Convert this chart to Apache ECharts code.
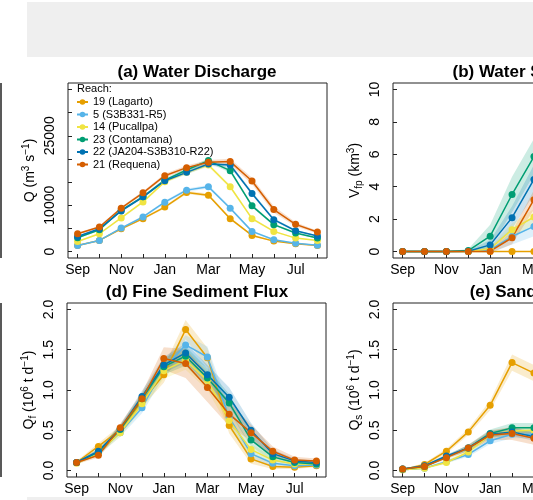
<!DOCTYPE html>
<html lang="en">
<head>
  <meta charset="UTF-8">
  <title>Reach seasonal cycles</title>
  <script src="https://cdn.jsdelivr.net/npm/echarts@6/dist/echarts.min.js"></script>
  <style>
    html, body { margin: 0; padding: 0; background: #fff; overflow: hidden; }
    /* the figure continues past the right edge of the window, like the cropped original */
    #main { width: 670px; height: 500px; }
  </style>
</head>
<body>
<div id="main"></div>
<script type="text/javascript">
  // months of the hydrological year (x axis index 0..11)
  var months = ['Sep', 'Oct', 'Nov', 'Dec', 'Jan', 'Feb', 'Mar', 'Apr', 'May', 'Jun', 'Jul', 'Aug'];
  var monthLabelIdx = [0, 2, 4, 6, 8, 10];
  var monthTickIdx = [0, 1, 2, 3, 4, 5, 6, 7, 8, 9, 10, 11];

  var reachNames = ['19 (Lagarto)', '5 (S3B331-R5)', '14 (Pucallpa)', '23 (Contamana)', '22 (JA204-S3B310-R22)', '21 (Requena)'];
  var reachColors = ['#E69F00', '#56B4E9', '#F0E442', '#009E73', '#0072B2', '#D55E00'];

  // (a) water discharge Q, m3/s
  var q19 = [1300, 2400, 4900, 7100, 9600, 12750, 12170, 7100, 3480, 2250, 1670, 1300];
  var q5  = [1300, 2400, 5070, 7460, 10650, 13260, 13990, 9350, 4350, 2540, 1810, 1380];
  var q14 = [2170, 3840, 7250, 10720, 15070, 17100, 18700, 13990, 7100, 4350, 2900, 2400];
  var q23 = [2970, 4710, 8910, 11810, 15430, 17610, 19640, 17460, 9860, 5800, 3990, 2900];
  var q22 = [3260, 4930, 8770, 11810, 15290, 17100, 18910, 18700, 12540, 6880, 4490, 3330];
  var q21 = [3840, 5290, 9350, 12680, 16380, 18120, 19280, 19420, 15220, 9060, 5870, 4200];
  // half width of the shaded bands
  var q19Err = [100, 150, 200, 250, 300, 350, 350, 300, 250, 150, 100, 100];
  var q5Err  = [100, 150, 200, 250, 300, 350, 400, 350, 250, 150, 100, 100];
  var q14Err = [150, 200, 250, 300, 350, 400, 400, 400, 300, 200, 150, 150];
  var q23Err = [150, 200, 300, 300, 350, 400, 450, 450, 350, 250, 200, 150];
  var q22Err = [150, 200, 300, 300, 350, 400, 450, 450, 400, 300, 200, 150];
  var q21Err = [200, 250, 300, 350, 400, 450, 500, 600, 700, 700, 450, 300];

  // (b) floodplain water volume Vfp, km3 (Sep..Mar visible)
  var v19 = [0, 0, 0, 0, 0, 0, 0];
  var v5  = [0, 0, 0, 0, 0.10, 0.93, 1.55];
  var v14 = [0, 0, 0, 0, 0.17, 1.35, 2.13];
  var v23 = [0, 0, 0, 0.06, 0.95, 3.52, 5.86];
  var v22 = [0, 0, 0, 0.02, 0.41, 2.09, 4.45];
  var v21 = [0, 0, 0, 0, 0.02, 0.85, 3.20];
  var v19Err = [0, 0, 0, 0, 0, 0, 0];
  var v5Err  = [0, 0, 0, 0, 0.20, 0.50, 0.60];
  var v14Err = [0, 0, 0, 0, 0.15, 0.40, 0.50];
  var v23Err = [0, 0, 0, 0.10, 0.70, 1.10, 1.10];
  var v22Err = [0, 0, 0, 0.05, 0.30, 0.70, 0.90];
  var v21Err = [0, 0, 0, 0, 0.10, 0.40, 0.60];

  // (d) fine sediment flux Qf, 10^6 t/d
  var f19 = [0.10, 0.30, 0.51, 0.86, 1.19, 1.75, 1.40, 0.56, 0.145, 0.05, 0.04, 0.06];
  var f5  = [0.10, 0.22, 0.47, 0.78, 1.27, 1.56, 1.41, 0.66, 0.21, 0.09, 0.06, 0.07];
  var f14 = [0.09, 0.22, 0.47, 0.83, 1.24, 1.37, 1.12, 0.62, 0.26, 0.13, 0.08, 0.08];
  var f23 = [0.10, 0.23, 0.51, 0.89, 1.29, 1.42, 1.15, 0.84, 0.38, 0.17, 0.10, 0.08];
  var f22 = [0.10, 0.24, 0.52, 0.92, 1.31, 1.46, 1.19, 0.91, 0.50, 0.21, 0.12, 0.10];
  var f21 = [0.10, 0.19, 0.53, 0.89, 1.39, 1.33, 1.03, 0.70, 0.47, 0.24, 0.13, 0.12];
  var f19Err = [0.02, 0.04, 0.05, 0.07, 0.10, 0.12, 0.12, 0.10, 0.06, 0.03, 0.02, 0.02];
  var f5Err  = [0.02, 0.03, 0.05, 0.07, 0.10, 0.12, 0.13, 0.12, 0.08, 0.04, 0.02, 0.02];
  var f14Err = [0.02, 0.03, 0.05, 0.07, 0.10, 0.12, 0.12, 0.10, 0.07, 0.04, 0.02, 0.02];
  var f23Err = [0.02, 0.03, 0.05, 0.07, 0.10, 0.12, 0.12, 0.11, 0.08, 0.05, 0.03, 0.02];
  var f22Err = [0.02, 0.03, 0.05, 0.07, 0.10, 0.12, 0.12, 0.12, 0.09, 0.05, 0.03, 0.02];
  var f21Err = [0.02, 0.03, 0.05, 0.08, 0.14, 0.18, 0.18, 0.15, 0.10, 0.06, 0.04, 0.03];

  // (e) sand flux Qs, 10^6 t/d (Sep..Mar visible)
  var s19 = [0.01, 0.075, 0.24, 0.48, 0.81, 1.34, 1.21];
  var s5  = [0.01, 0.03, 0.11, 0.20, 0.37, 0.45, 0.45];
  var s14 = [0.01, 0.03, 0.10, 0.23, 0.44, 0.49, 0.50];
  var s23 = [0.02, 0.05, 0.17, 0.28, 0.46, 0.53, 0.53];
  var s22 = [0.02, 0.06, 0.18, 0.28, 0.45, 0.48, 0.42];
  var s21 = [0.02, 0.05, 0.16, 0.28, 0.44, 0.46, 0.40];
  var s19Err = [0.01, 0.02, 0.03, 0.04, 0.06, 0.10, 0.10];
  var s5Err  = [0.01, 0.01, 0.02, 0.03, 0.04, 0.05, 0.05];
  var s14Err = [0.01, 0.01, 0.02, 0.03, 0.04, 0.05, 0.05];
  var s23Err = [0.01, 0.01, 0.02, 0.04, 0.05, 0.06, 0.06];
  var s22Err = [0.01, 0.01, 0.02, 0.03, 0.04, 0.05, 0.05];
  var s21Err = [0.01, 0.01, 0.02, 0.04, 0.06, 0.08, 0.08];

  // y ticks / labels
  var qTicks = [0, 5000, 10000, 15000, 20000, 25000, 30000, 35000];
  var qLabels = [0, 10000, 25000];
  var vTicks = [0, 2, 4, 6, 8, 10];
  var fluxTicks = [0, 0.5, 1, 1.5, 2];

  var FONT = '"Liberation Sans", Arial, sans-serif';
  var myChart = echarts.init(document.getElementById('main'), null, { renderer: 'canvas' });

  function rgba(hex, a) {
    var n = parseInt(hex.slice(1), 16);
    return 'rgba(' + (n >> 16) + ',' + ((n >> 8) & 255) + ',' + (n & 255) + ',' + a + ')';
  }

  var grids = [
    { left: 68, top: 83, width: 259, height: 175 },
    { left: 393, top: 83, width: 260, height: 175 },
    { left: 67, top: 303, width: 259, height: 174 },
    { left: 393, top: 303, width: 260, height: 174 }
  ];
  grids.forEach(function (g) {
    g.show = true; g.borderColor = '#222'; g.borderWidth = 1; g.backgroundColor = 'transparent';
    g.containLabel = false;
  });

  var xAxes = grids.map(function (g, i) {
    return {
      type: 'value', gridIndex: i, min: -0.44, max: 11.44,
      axisLine: { show: false, onZero: false },
      splitLine: { show: false },
      axisTick: { inside: true, length: 4, lineStyle: { color: '#222' }, customValues: monthTickIdx },
      axisLabel: {
        customValues: monthLabelIdx, margin: 5, color: '#000', fontSize: 14, fontFamily: FONT,
        formatter: function (v) { return months[v]; }
      }
    };
  });

  var nameRich = {
    n: { fontSize: 14, fontFamily: FONT, color: '#000', lineHeight: 18 },
    sup: { fontSize: 10, fontFamily: FONT, color: '#000', verticalAlign: 'top', lineHeight: 10 },
    sub: { fontSize: 10, fontFamily: FONT, color: '#000', verticalAlign: 'bottom', lineHeight: 10 }
  };

  function yAxis(i, min, max, ticks, labels, name, fmt) {
    return {
      type: 'value', gridIndex: i, min: min, max: max,
      axisLine: { show: false, onZero: false },
      splitLine: { show: false },
      axisTick: { inside: true, length: 4, lineStyle: { color: '#222' }, customValues: ticks },
      axisLabel: {
        customValues: labels, rotate: 90, margin: 11, color: '#000', fontSize: 14, fontFamily: FONT,
        formatter: fmt
      },
      name: name, nameLocation: 'middle', nameGap: 29,
      nameTextStyle: { rich: nameRich }
    };
  }

  var yAxes = [
    yAxis(0, -1400, 36400, qTicks, qLabels, '{n|Q (m}{sup|3}{n| s}{sup|−1}{n|)}', function (v) { return String(v); }),
    yAxis(1, -0.4, 10.4, vTicks, vTicks, '{n|V}{sub|fp}{n| (km}{sup|3}{n|)}', function (v) { return String(v); }),
    yAxis(2, -0.08, 2.08, fluxTicks, fluxTicks, '{n|Q}{sub|f}{n| (10}{sup|6}{n| t d}{sup|−1}{n|)}', function (v) { return v.toFixed(1); }),
    yAxis(3, -0.08, 2.08, fluxTicks, fluxTicks, '{n|Q}{sub|s}{n| (10}{sup|6}{n| t d}{sup|−1}{n|)}', function (v) { return v.toFixed(1); })
  ];

  var panels = [
    { vals: [q19, q5, q14, q23, q22, q21], errs: [q19Err, q5Err, q14Err, q23Err, q22Err, q21Err] },
    { vals: [v19, v5, v14, v23, v22, v21], errs: [v19Err, v5Err, v14Err, v23Err, v22Err, v21Err] },
    { vals: [f19, f5, f14, f23, f22, f21], errs: [f19Err, f5Err, f14Err, f23Err, f22Err, f21Err] },
    { vals: [s19, s5, s14, s23, s22, s21], errs: [s19Err, s5Err, s14Err, s23Err, s22Err, s21Err] }
  ];

  var series = [];
  panels.forEach(function (p, gi) {
    // shaded uncertainty bands first
    p.vals.forEach(function (vals, k) {
      var err = p.errs[k];
      series.push({
        type: 'custom', xAxisIndex: gi, yAxisIndex: gi, silent: true, z: 1,
        data: vals.map(function (v, i) { return [i, v]; }),
        encode: { x: 0, y: 1 },
        renderItem: function (params, api) {
          if (params.dataIndex !== 0) return null;
          var pts = [];
          for (var i = 0; i < vals.length; i++) pts.push(api.coord([i, vals[i] + err[i]]));
          for (var j = vals.length - 1; j >= 0; j--) pts.push(api.coord([j, vals[j] - err[j]]));
          return { type: 'polygon', shape: { points: pts }, style: { fill: rgba(reachColors[k], 0.2) } };
        }
      });
    });
    p.vals.forEach(function (vals, k) {
      series.push({
        type: 'line', name: reachNames[k], xAxisIndex: gi, yAxisIndex: gi, z: 3,
        data: vals.map(function (v, i) { return [i, v]; }),
        symbol: 'circle', symbolSize: 7, showSymbol: true,
        lineStyle: { color: reachColors[k], width: 1.5 },
        itemStyle: { color: reachColors[k] },
        emphasis: { disabled: true }
      });
    });
  });

  function titleText(x, y, text) {
    return { type: 'text', x: x, y: y, style: { text: text, font: 'bold 17px ' + FONT, fill: '#000', align: 'center', verticalAlign: 'middle' } };
  }

  var option = {
    animation: false,
    grid: grids,
    xAxis: xAxes,
    yAxis: yAxes,
    legend: {
      data: reachNames, orient: 'vertical', left: 76, top: 96, padding: 0,
      itemWidth: 11, itemHeight: 7, itemGap: 0.5,
      textStyle: { fontSize: 11, fontFamily: FONT, color: '#000', lineHeight: 12 },
      selectedMode: false
    },
    graphic: [
      { type: 'rect', shape: { x: 27, y: 2, width: 643, height: 55 }, style: { fill: '#efefef' }, z: -10 },
      { type: 'rect', shape: { x: 27, y: 497, width: 643, height: 3 }, style: { fill: '#efefef' }, z: -10 },
      { type: 'line', shape: { x1: 1, y1: 83, x2: 1, y2: 258 }, style: { stroke: '#222', lineWidth: 1.5 } },
      { type: 'line', shape: { x1: 1, y1: 303, x2: 1, y2: 477 }, style: { stroke: '#222', lineWidth: 1.5 } },
      titleText(197, 72, '(a) Water Discharge'),
      titleText(523, 72, '(b) Water Storage'),
      titleText(197, 292, '(d) Fine Sediment Flux'),
      titleText(523, 292, '(e) Sand Flux'),
      { type: 'text', x: 77, y: 89, style: { text: 'Reach:', font: '11px ' + FONT, fill: '#000', align: 'left', verticalAlign: 'middle' } }
    ],
    series: series
  };
  myChart.setOption(option);
</script>
</body>
</html>
